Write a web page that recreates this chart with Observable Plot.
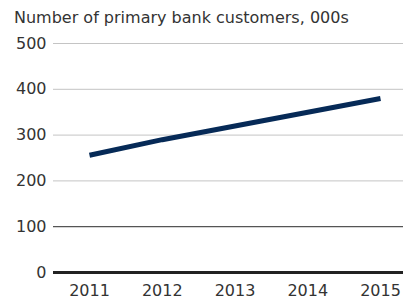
<!DOCTYPE html>
<html><head><meta charset="utf-8">
<script src="https://cdn.jsdelivr.net/npm/d3@7"></script>
<script src="https://cdn.jsdelivr.net/npm/@observablehq/plot@0.6"></script>
<style>
body{margin:0;background:#fff;font-family:"DejaVu Sans",sans-serif;color:#333;}
#title{height:30px;padding-left:14px;font-size:16px;line-height:16px;padding-top:10px;box-sizing:border-box;white-space:nowrap;}
</style></head>
<body>
<div id="title">Number of primary bank customers, 000s</div>
<div id="chart"></div>
<script>
const years = [2011, 2012, 2013, 2014, 2015];
const customers = [256, 290, 320, 350, 380];
const yTicks = [0, 100, 200, 300, 400, 500];
const data = years.map((y, i) => ({year: y, value: customers[i]}));

const chart = Plot.plot({
  width: 403,
  height: 268,
  marginLeft: 53,
  marginRight: 0,
  marginTop: 0,
  marginBottom: 0,
  style: {fontFamily: '"DejaVu Sans", sans-serif', fontSize: "16px", color: "#333", background: "#fff", overflow: "visible"},
  x: {domain: [2011, 2015], range: [89, 380], axis: null},
  y: {domain: [0, 500], range: [242, 13], axis: null},
  marks: [
    Plot.ruleY(yTicks.filter(d => d >= 200), {stroke: "#c4c4c4", strokeWidth: 1}),
    Plot.ruleY([100], {stroke: "#555", strokeWidth: 1.2}),
    Plot.axisY({ticks: yTicks, tickSize: 0, tickPadding: 7, tickFormat: d => String(d), fontSize: 16, fill: "#333", label: null}),
    Plot.line(data, {x: "year", y: "value", stroke: "#062a57", strokeWidth: 5, strokeLinecap: "butt"}),
    Plot.ruleY([0], {stroke: "#222", strokeWidth: 3}),
    Plot.text(years, {x: d => d, frameAnchor: "bottom", dy: -3, text: d => String(d), fontSize: 16, fill: "#333", textAnchor: "middle"})
  ]
});
document.getElementById("chart").appendChild(chart);
</script>
</body></html>
